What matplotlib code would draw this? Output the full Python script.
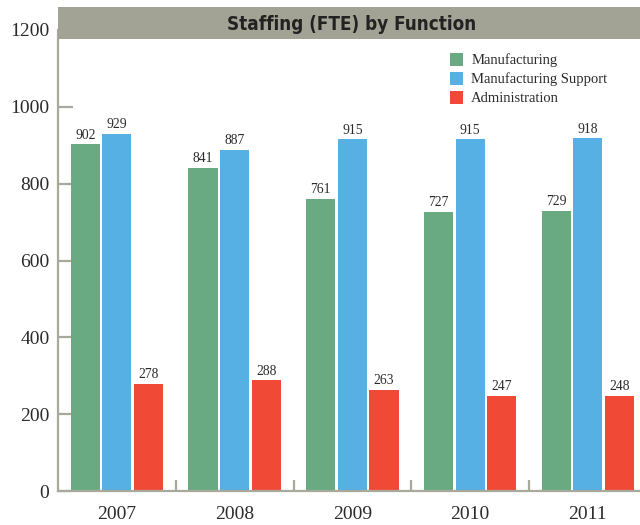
import numpy as np
import matplotlib
matplotlib.use('Agg')
import matplotlib.pyplot as plt
from matplotlib.patches import Rectangle, Patch

years = ['2007', '2008', '2009', '2010', '2011']
manufacturing = [902, 841, 761, 727, 729]
mfg_support = [929, 887, 915, 915, 918]
administration = [278, 288, 263, 247, 248]
series_names = ['Manufacturing', 'Manufacturing Support', 'Administration']
yticks = [0, 200, 400, 600, 800, 1000, 1200]

colors = ['#6aaa83', '#56b0e4', '#f04a36']
axis_col = '#a9a99b'
txt_col = '#2b2b2b'
serif = ['Liberation Serif', 'DejaVu Serif']

W, H = 640, 525
fig = plt.figure(figsize=(W/100, H/100), dpi=100)
# plot area in pixels: x 58..640, y 30..491
ax = fig.add_axes([58/W, (H-491)/H, (W-58)/W, (491-30)/H])

x = np.arange(len(years)) + 0.5
offs = [-0.268, 0.0, 0.268]
bw = 0.248
for vals, off, c in zip([manufacturing, mfg_support, administration], offs, colors):
    bars = ax.bar(x + off, vals, bw, color=c, zorder=2)
    for b, v in zip(bars, vals):
        ax.annotate(str(v), (b.get_x() + b.get_width()/2, v), xytext=(0, 2),
                    textcoords='offset points', ha='center', va='bottom',
                    fontsize=9.8, family=serif, color=txt_col)

ax.set_xlim(0, (W-58)/117.75)
ax.set_ylim(0, 1200)

for s in ['top', 'right']:
    ax.spines[s].set_visible(False)
for s in ['left', 'bottom']:
    ax.spines[s].set_color(axis_col)
    ax.spines[s].set_linewidth(1.6)

ax.set_yticks(yticks)
ax.set_yticklabels([str(t) for t in yticks], family=serif, fontsize=14, color=txt_col)
ax.tick_params(axis='y', direction='in', length=11, width=1.6, color=axis_col, pad=-1)
for lab in ax.get_yticklabels():
    lab.set_x(-10/582)

ax.set_xticks(x)
ax.set_xticklabels(years, family=serif, fontsize=14, color=txt_col)
ax.tick_params(axis='x', which='major', length=0, pad=11)
ax.set_xticks([1, 2, 3, 4], minor=True)
ax.tick_params(axis='x', which='minor', direction='in', length=8, width=1.6, color=axis_col)

# title banner
fig.patches.append(Rectangle((58/W, (H-39)/H), (W-58)/W, 32/H, transform=fig.transFigure,
                             facecolor='#a3a395', edgecolor='none', zorder=5))
fig.text(352/W, (H-30)/H, 'Staffing (FTE) by Function', ha='center', va='baseline',
         fontsize=13.5, fontweight='bold', fontstretch='condensed', color='#222222',
         family=['DejaVu Sans'], zorder=6)

handles = [Patch(facecolor=c, edgecolor='none') for c in colors]
fig.legend(handles, series_names, loc='upper left', bbox_to_anchor=(450/W, 1-53/H),
           bbox_transform=fig.transFigure, frameon=False, prop={'family': serif, 'size': 10.5},
           handlelength=0.9, handleheight=0.95, handletextpad=0.55, labelspacing=0.32,
           borderpad=0, borderaxespad=0, labelcolor=txt_col)

fig.savefig('out.png', dpi=100)
